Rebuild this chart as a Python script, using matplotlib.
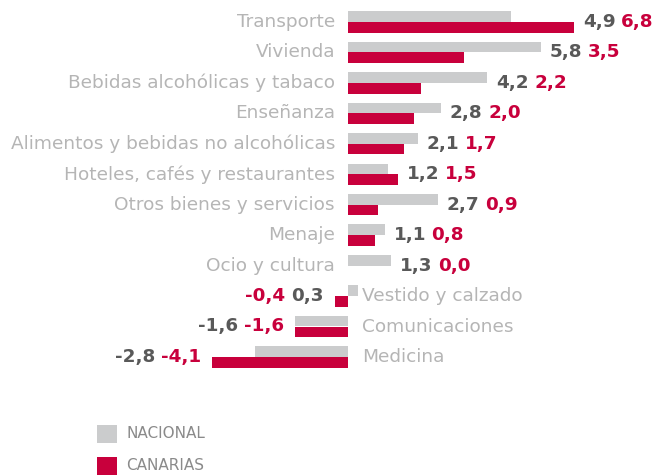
import matplotlib

matplotlib.use("Agg")
import matplotlib.pyplot as plt
from matplotlib.offsetbox import AnnotationBbox, HPacker, TextArea
from matplotlib.patches import Rectangle

categories = [
    "Transporte",
    "Vivienda",
    "Bebidas alcohólicas y tabaco",
    "Enseñanza",
    "Alimentos y bebidas no alcohólicas",
    "Hoteles, cafés y restaurantes",
    "Otros bienes y servicios",
    "Menaje",
    "Ocio y cultura",
    "Vestido y calzado",
    "Comunicaciones",
    "Medicina",
]
nacional = [4.9, 5.8, 4.2, 2.8, 2.1, 1.2, 2.7, 1.1, 1.3, 0.3, -1.6, -2.8]
canarias = [6.8, 3.5, 2.2, 2.0, 1.7, 1.5, 0.9, 0.8, 0.0, -0.4, -1.6, -4.1]
red_first = ["Vestido y calzado"]
series_names = ["NACIONAL", "CANARIAS"]

GRAY = "#cbcccd"
RED = "#c8003c"
VAL_GRAY = "#595959"
CAT_GRAY = "#b5b5b5"
LEG_GRAY = "#8a8a8a"

W, H = 655, 475
fig = plt.figure(figsize=(W / 100, H / 100), dpi=100)
ax = fig.add_axes([0, 0, 1, 1])
ax.axis("off")

# pixel mapping: zero at x=348, 33.2 px per unit; rows 30.45 px apart starting at y=22
x0, sx = 348, 33.2
y0, sy = 22, 30.45
ax.set_xlim(-x0 / sx, (W - x0) / sx)
ax.set_ylim((H - y0) / sy, -y0 / sy)

bh = 0.35
fmt = lambda v: f"{v:.1f}".replace(".", ",")
for i, (cat, n, c) in enumerate(zip(categories, nacional, canarias)):
    ax.barh(i - bh / 2, n, height=bh, color=GRAY, linewidth=0)
    ax.barh(i + bh / 2, c, height=bh, color=RED, linewidth=0)

    vals = [(fmt(n), VAL_GRAY), (fmt(c), RED)]
    if cat in red_first:
        vals = vals[::-1]
    boxes = [
        TextArea(t, textprops=dict(color=col, fontsize=13.2, fontweight="bold",
                                   family="DejaVu Sans"))
        for t, col in vals
    ]
    pack = HPacker(children=boxes, sep=4, pad=0, align="center")
    hi = max(n, c, 0)
    lo = min(n, c, 0)
    if lo < 0:
        ab = AnnotationBbox(pack, (lo, i), xybox=(-8, 0), xycoords="data",
                            boxcoords="offset points", box_alignment=(1, 0.5),
                            frameon=False, pad=0)
        ax.text(14 / sx, i, cat, ha="left", va="center", color=CAT_GRAY,
                fontsize=13.3)
    else:
        ab = AnnotationBbox(pack, (hi, i), xybox=(6.5, 0), xycoords="data",
                            boxcoords="offset points", box_alignment=(0, 0.5),
                            frameon=False, pad=0)
        ax.text(-13 / sx, i, cat, ha="right", va="center", color=CAT_GRAY,
                fontsize=13.3)
    ax.add_artist(ab)

# legend
for k, (name, col) in enumerate(zip(series_names, [GRAY, RED])):
    top = 425 + 32 * k
    fig.patches.append(Rectangle((97 / W, 1 - (top + 18) / H), 20 / W, 18 / H,
                                 transform=fig.transFigure, color=col, linewidth=0))
    fig.text(126 / W, 1 - (top + 9) / H, name, ha="left", va="center",
             color=LEG_GRAY, fontsize=11)

fig.savefig("out.png", dpi=100)
